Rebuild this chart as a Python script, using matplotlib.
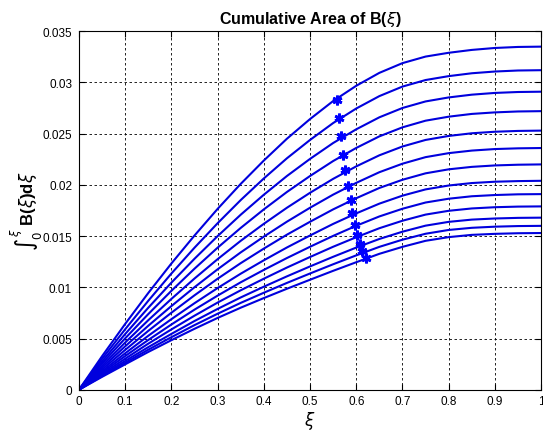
import numpy as np
import matplotlib
matplotlib.use('Agg')
import matplotlib.pyplot as plt

plt.rcParams['font.family'] = ['Liberation Sans', 'DejaVu Sans']

# --- Data (xi step 0.05) ---
xi = [0.0, 0.05, 0.1, 0.15, 0.2, 0.25, 0.3, 0.35, 0.4, 0.45, 0.5,
      0.55, 0.6, 0.65, 0.7, 0.75, 0.8, 0.85, 0.9, 0.95, 1.0]

area_01 = [0, 0.00328, 0.00643, 0.00945, 0.01233, 0.01506, 0.01766, 0.02010, 0.02238, 0.02451, 0.02643,
           0.02819, 0.02968, 0.03094, 0.03189, 0.03253, 0.03290, 0.03318, 0.03337, 0.03347, 0.0335]
area_02 = [0, 0.00302, 0.00591, 0.00869, 0.01135, 0.01387, 0.01626, 0.01852, 0.02063, 0.02260, 0.02439,
           0.02604, 0.02746, 0.02867, 0.02960, 0.03024, 0.03062, 0.03090, 0.03107, 0.03117, 0.0312]
area_03 = [0, 0.00277, 0.00544, 0.00801, 0.01046, 0.01279, 0.01500, 0.01709, 0.01904, 0.02087, 0.02254,
           0.02409, 0.02543, 0.02660, 0.02751, 0.02815, 0.02854, 0.02881, 0.02898, 0.02907, 0.0291]
area_04 = [0, 0.00256, 0.00502, 0.00739, 0.00966, 0.01182, 0.01387, 0.01580, 0.01761, 0.01931, 0.02087,
           0.02233, 0.02361, 0.02474, 0.02562, 0.02627, 0.02666, 0.02693, 0.02708, 0.02717, 0.0272]
area_05 = [0, 0.00234, 0.00461, 0.00679, 0.00887, 0.01086, 0.01275, 0.01454, 0.01620, 0.01777, 0.01923,
           0.02059, 0.02181, 0.02289, 0.02375, 0.02439, 0.02478, 0.02504, 0.02519, 0.02527, 0.0253]
area_06 = [0, 0.00216, 0.00424, 0.00625, 0.00817, 0.01001, 0.01176, 0.01341, 0.01495, 0.01641, 0.01777,
           0.01905, 0.02020, 0.02124, 0.02207, 0.02271, 0.02310, 0.02335, 0.02350, 0.02357, 0.0236]
area_07 = [0, 0.00198, 0.00389, 0.00575, 0.00752, 0.00922, 0.01084, 0.01236, 0.01378, 0.01514, 0.01640,
           0.01761, 0.01870, 0.01970, 0.02050, 0.02113, 0.02152, 0.02176, 0.02190, 0.02197, 0.0220]
area_08 = [0, 0.00181, 0.00356, 0.00527, 0.00689, 0.00845, 0.00993, 0.01133, 0.01264, 0.01389, 0.01506,
           0.01619, 0.01722, 0.01817, 0.01895, 0.01956, 0.01994, 0.02018, 0.02031, 0.02037, 0.0204]
area_09 = [0, 0.00167, 0.00329, 0.00486, 0.00637, 0.00782, 0.00919, 0.01049, 0.01170, 0.01286, 0.01396,
           0.01502, 0.01601, 0.01692, 0.01767, 0.01828, 0.01865, 0.01889, 0.01901, 0.01908, 0.0191]
area_10 = [0, 0.00154, 0.00303, 0.00450, 0.00589, 0.00723, 0.00851, 0.00971, 0.01084, 0.01193, 0.01296,
           0.01396, 0.01489, 0.01577, 0.01650, 0.01710, 0.01747, 0.01770, 0.01782, 0.01788, 0.0179]
area_11 = [0, 0.00142, 0.00281, 0.00416, 0.00545, 0.00671, 0.00789, 0.00901, 0.01006, 0.01107, 0.01204,
           0.01298, 0.01388, 0.01472, 0.01543, 0.01602, 0.01639, 0.01661, 0.01672, 0.01678, 0.0168]
area_12 = [0, 0.00133, 0.00263, 0.00391, 0.00513, 0.00631, 0.00742, 0.00848, 0.00947, 0.01043, 0.01135,
           0.01225, 0.01312, 0.01395, 0.01465, 0.01523, 0.01560, 0.01581, 0.01592, 0.01598, 0.0160]
area_13 = [0, 0.00126, 0.00248, 0.00369, 0.00484, 0.00595, 0.00701, 0.00801, 0.00895, 0.00986, 0.01074,
           0.01161, 0.01245, 0.01327, 0.01395, 0.01454, 0.01490, 0.01512, 0.01522, 0.01528, 0.0153]

curves = [area_01, area_02, area_03, area_04, area_05, area_06, area_07,
          area_08, area_09, area_10, area_11, area_12, area_13]

# star markers on each curve
marker_xi = [0.558, 0.5635, 0.567, 0.5707, 0.5758, 0.583, 0.588,
             0.5916, 0.597, 0.6025, 0.608, 0.613, 0.621]
marker_area = [0.02832, 0.02654, 0.02474, 0.02295, 0.02149, 0.01993, 0.01856,
               0.01726, 0.01612, 0.01514, 0.01423, 0.01351, 0.01286]

xticks = [0, 0.1, 0.2, 0.3, 0.4, 0.5, 0.6, 0.7, 0.8, 0.9, 1]
xticklabels = ['0', '0.1', '0.2', '0.3', '0.4', '0.5', '0.6', '0.7', '0.8', '0.9', '1']
yticks = [0, 0.005, 0.01, 0.015, 0.02, 0.025, 0.03, 0.035]
yticklabels = ['0', '0.005', '0.01', '0.015', '0.02', '0.025', '0.03', '0.035']

# --- Figure ---
fig = plt.figure(figsize=(5.43, 4.35), dpi=100)
ax = fig.add_axes([0.1455, 0.1018, 0.851, 0.824])

for curve in curves:
    ax.plot(xi, curve, color='#0000dd', linewidth=1.5)
ax.plot(marker_xi, marker_area, linestyle='none', marker=(6, 2, 0),
        markersize=7, markeredgewidth=2, color='#0000ff')

ax.set_xlim(0, 1)
ax.set_ylim(0, 0.035)
ax.set_xticks(xticks)
ax.set_xticklabels(xticklabels)
ax.set_yticks(yticks)
ax.set_yticklabels(yticklabels)
ax.tick_params(direction='in', top=True, right=True, labelsize=8.5, length=4)
ax.tick_params(axis='y', pad=5)
ax.tick_params(axis='x', pad=4)
ax.grid(True, color='black', linestyle=(0, (3, 3)), linewidth=0.6)
for s in ax.spines.values():
    s.set_linewidth(0.8)

ax.set_title(r'Cumulative Area of B($\xi$)', fontsize=11.5, fontweight='bold', pad=6)
ax.set_xlabel(r'$\xi$', fontsize=12, fontweight='bold', labelpad=1)
ax.set_ylabel(r'$\int_0^\xi$ B($\xi$)d$\xi$', fontsize=12, fontweight='bold', labelpad=-2)

plt.savefig('out.png', dpi=100)
